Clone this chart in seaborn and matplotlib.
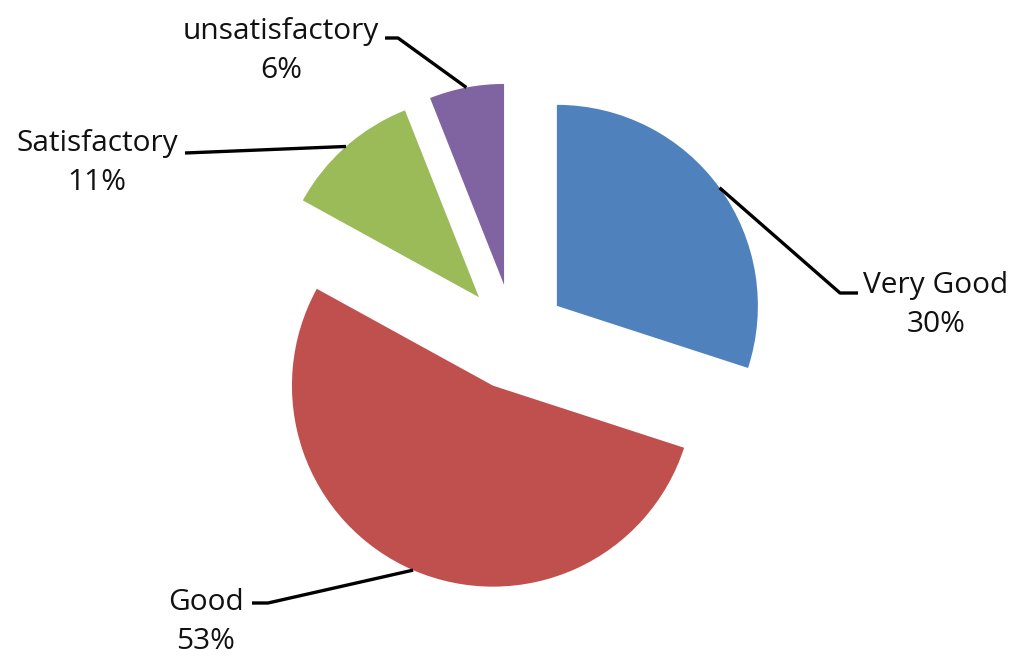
import math
import matplotlib
matplotlib.use("Agg")
import matplotlib.pyplot as plt
import seaborn as sns

categories = ["Very Good", "Good", "Satisfactory", "unsatisfactory"]
values = [30, 53, 11, 6]
pct_labels = ["30%", "53%", "11%", "6%"]
colors = ["#4F81BD", "#C0504D", "#9BBB59", "#8064A2"]

sns.set_theme(style="white")
plt.rcParams["font.family"] = ["Open Sans", "DejaVu Sans"]

W, H = 1020, 665
fig = plt.figure(figsize=(W / 100, H / 100), dpi=100)
ax = fig.add_axes([0, 0, 1, 1])

R = 201
wedges, _ = ax.pie(values, colors=sns.color_palette(colors), startangle=90,
                   counterclock=False, radius=R, center=(514, H - 337),
                   explode=[53] * 4, wedgeprops=dict(linewidth=0),
                   frame=True)
ax.set_xlim(0, W)
ax.set_ylim(0, H)
ax.set_aspect("equal")
ax.axis("off")

# label layout: (text centre, elbow point, line end)
layout = [
    ((936, H - 305), (840, H - 293), (858, H - 293)),
    ((206, H - 622), (268, H - 603), (252, H - 603)),
    ((97, H - 163), None, (185, H - 153)),
    ((281, H - 51), (398, H - 38), (385, H - 38)),
]
for w, cat, pct, (tpos, elbow, end) in zip(wedges, categories, pct_labels, layout):
    ang = math.radians((w.theta1 + w.theta2) / 2)
    cx, cy = w.center
    ax_pt = (cx + w.r * math.cos(ang), cy + w.r * math.sin(ang))
    pts = [ax_pt] + ([elbow] if elbow else []) + [end]
    ax.plot([p[0] for p in pts], [p[1] for p in pts], color="black", lw=2.4,
            solid_capstyle="butt")
    ax.text(tpos[0], tpos[1], f"{cat}\n{pct}", ha="center", va="center",
            fontsize=21.5, color="#111111", linespacing=1.42)

fig.savefig("out.png", dpi=100, facecolor="white")
